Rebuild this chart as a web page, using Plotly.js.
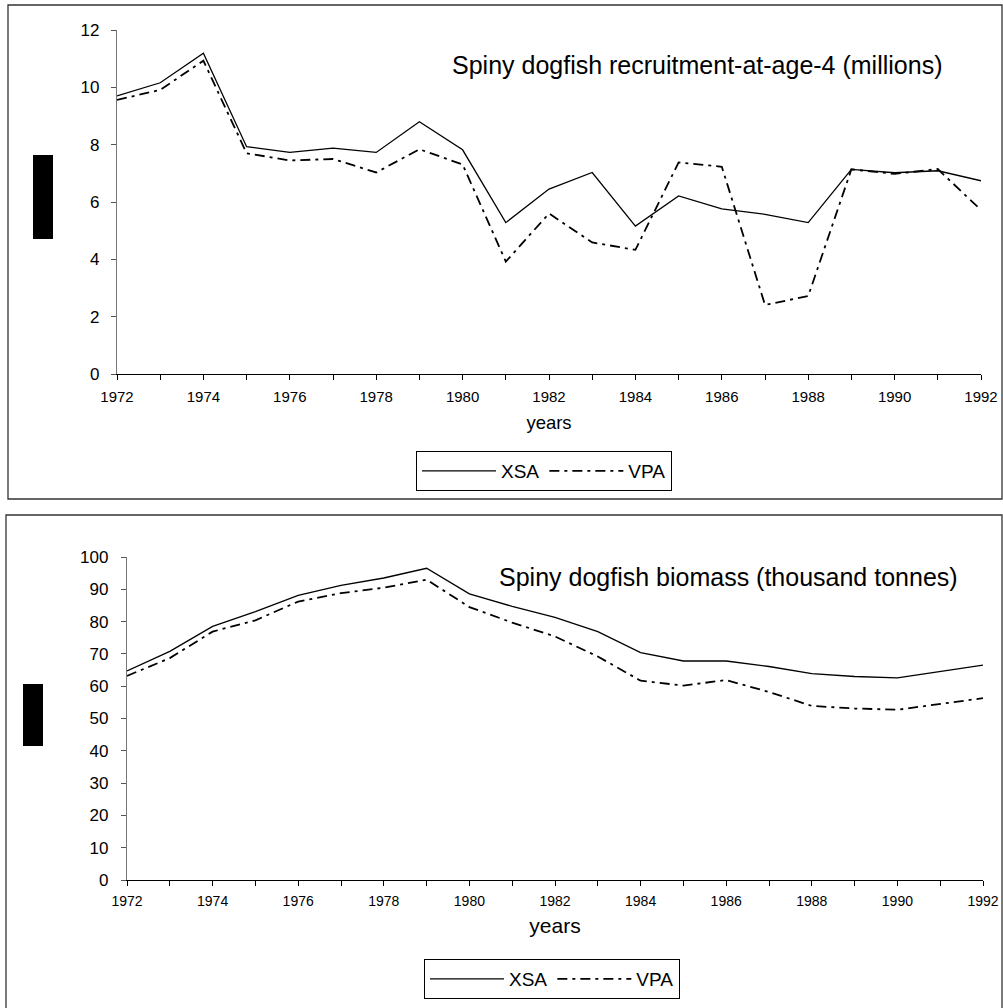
<!DOCTYPE html>
<html>
<head>
<meta charset="utf-8">
<script src="https://cdn.plot.ly/plotly-3.0.1.min.js"></script>
<style>
  html, body { margin: 0; padding: 0; background: #fff; }
  #chart { width: 1003px; height: 1008px; }
</style>
</head>
<body>
<div id="chart"></div>
<script>
const years = [1972,1973,1974,1975,1976,1977,1978,1979,1980,1981,1982,1983,1984,1985,1986,1987,1988,1989,1990,1991,1992];
const xsaRecruit = [9.70,10.16,11.19,7.93,7.73,7.88,7.73,8.80,7.82,5.28,6.45,7.03,5.16,6.21,5.76,5.57,5.28,7.14,7.02,7.09,6.74];
const vpaRecruit = [9.56,9.91,10.93,7.70,7.45,7.50,7.03,7.84,7.31,3.92,5.60,4.59,4.33,7.38,7.23,2.41,2.72,7.14,6.98,7.15,5.72];
const xsaBiomass = [64.7,70.8,78.5,83.1,88.1,91.2,93.5,96.5,88.6,84.7,81.3,76.9,70.4,67.8,67.8,66.1,63.9,63.0,62.6,64.6,66.5];
const vpaBiomass = [63.2,68.7,76.9,80.4,86.2,88.8,90.5,93.0,84.5,79.7,75.4,69.2,61.7,60.2,61.9,58.2,53.9,53.1,52.7,54.5,56.3];
const seriesNames = ["XSA", "VPA"];
const titleTop = "Spiny dogfish recruitment-at-age-4 (millions)";
const titleBottom = "Spiny dogfish biomass (thousand tonnes)";
const xAxisLabel = "years";
const xTickText = years.map(y => (y - 1972) % 2 === 0 ? String(y) : "");

const W = 1003, H = 1008;
const px = x => x / W;
const py = y => 1 - y / H;
const FONT = "Liberation Sans, Arial, sans-serif";

const solid = {color: "#000", width: 1.3, dash: "solid"};
const dashdot = {color: "#000", width: 1.8, dash: "10px,5px,3px,5px"};

const traces = [
  {x: years, y: xsaRecruit, name: seriesNames[0], type: "scatter", mode: "lines", line: solid, xaxis: "x", yaxis: "y", legend: "legend"},
  {x: years, y: vpaRecruit, name: seriesNames[1], type: "scatter", mode: "lines", line: dashdot, xaxis: "x", yaxis: "y", legend: "legend"},
  {x: years, y: xsaBiomass, name: seriesNames[0], type: "scatter", mode: "lines", line: solid, xaxis: "x2", yaxis: "y2", legend: "legend2"},
  {x: years, y: vpaBiomass, name: seriesNames[1], type: "scatter", mode: "lines", line: dashdot, xaxis: "x2", yaxis: "y2", legend: "legend2"}
];

function xMain(domain, anchor, fontSize, standoff, titleSize, titleStandoff) {
  return {
    domain: domain, anchor: anchor, range: [1972, 1992],
    tickmode: "array", tickvals: years, ticktext: xTickText,
    ticks: "outside", ticklen: 5, tickwidth: 1, tickcolor: "#000",
    showline: true, linecolor: "#000", linewidth: 1,
    showgrid: false, zeroline: false,
    tickfont: {family: FONT, size: fontSize, color: "#000"},
    ticklabelstandoff: standoff,
    title: {text: xAxisLabel, font: {family: FONT, size: titleSize, color: "#000"}, standoff: titleStandoff},
    fixedrange: true
  };
}
function xOver(over, anchor) {
  return {
    overlaying: over, anchor: anchor, side: "bottom", range: [1972, 1992],
    tickmode: "array", tickvals: years, showticklabels: false,
    ticks: "inside", ticklen: 4, tickwidth: 1, tickcolor: "#000",
    showline: false, showgrid: false, zeroline: false, fixedrange: true
  };
}
function yMain(domain, anchor, range, dtick, fontSize, standoff) {
  return {
    domain: domain, anchor: anchor, range: range, dtick: dtick, tick0: 0,
    ticks: "outside", ticklen: 5, tickwidth: 1, tickcolor: "#555",
    showline: true, linecolor: "#777", linewidth: 1.2,
    showgrid: false, zeroline: false,
    tickfont: {family: FONT, size: fontSize, color: "#000"},
    ticklabelstandoff: standoff, fixedrange: true
  };
}
function yOver(over, anchor, range, dtick) {
  return {
    overlaying: over, anchor: anchor, side: "left", range: range, dtick: dtick, tick0: 0,
    showticklabels: false, ticks: "inside", ticklen: 5, tickwidth: 1, tickcolor: "#555",
    showline: false, showgrid: false, zeroline: false, fixedrange: true
  };
}

const topX = [px(117), px(981)], topY = [py(374), py(30)];
const botX = [px(127), px(983)], botY = [py(880), py(557)];

function legendAt(x, y) {
  return {
    x: px(x), y: py(y), xanchor: "left", yanchor: "top",
    orientation: "h", bgcolor: "#fff", bordercolor: "#000", borderwidth: 1,
    font: {family: FONT, size: 19, color: "#000"}, itemwidth: 74, tracegroupgap: 0
  };
}

const layout = {
  width: W, height: H,
  margin: {l: 0, r: 0, t: 0, b: 0},
  paper_bgcolor: "#fff", plot_bgcolor: "rgba(0,0,0,0)",
  font: {family: FONT, color: "#000"},
  xaxis: xMain(topX, "y", 15, 4, 18.5, 12),
  yaxis: yMain(topY, "x", [0, 12], 2, 17, 8),
  xaxis2: xMain(botX, "y2", 14, 3, 21, 10),
  yaxis2: yMain(botY, "x2", [0, 100], 10, 17, 9),
  xaxis3: xOver("x", "y"),
  yaxis3: yOver("y", "x", [0, 12], 2),
  xaxis4: xOver("x2", "y2"),
  yaxis4: yOver("y2", "x2", [0, 100], 10),
  showlegend: true,
  legend: legendAt(416, 451),
  legend2: legendAt(424, 959),
  annotations: [
    {text: titleTop, xref: "paper", yref: "paper", x: px(450), y: py(65), xanchor: "left", yanchor: "middle",
     showarrow: false, font: {family: FONT, size: 25, color: "#000"}},
    {text: titleBottom, xref: "paper", yref: "paper", x: px(497), y: py(577), xanchor: "left", yanchor: "middle",
     showarrow: false, font: {family: FONT, size: 25, color: "#000"}}
  ],
  shapes: [
    {type: "rect", xref: "paper", yref: "paper", x0: px(8), x1: px(1002), y0: py(499), y1: py(5),
     line: {color: "#333", width: 1.3}, fillcolor: "rgba(0,0,0,0)", layer: "below"},
    {type: "rect", xref: "paper", yref: "paper", x0: px(6), x1: px(1002), y0: py(1010), y1: py(515),
     line: {color: "#333", width: 1.3}, fillcolor: "rgba(0,0,0,0)", layer: "below"},
    {type: "rect", xref: "paper", yref: "paper", x0: px(33), x1: px(53), y0: py(239), y1: py(155),
     line: {width: 0}, fillcolor: "#000"},
    {type: "rect", xref: "paper", yref: "paper", x0: px(23), x1: px(43), y0: py(746), y1: py(684),
     line: {width: 0}, fillcolor: "#000"}
  ]
};

Plotly.newPlot("chart", traces, layout, {displayModeBar: false, staticPlot: true});
</script>
</body>
</html>
